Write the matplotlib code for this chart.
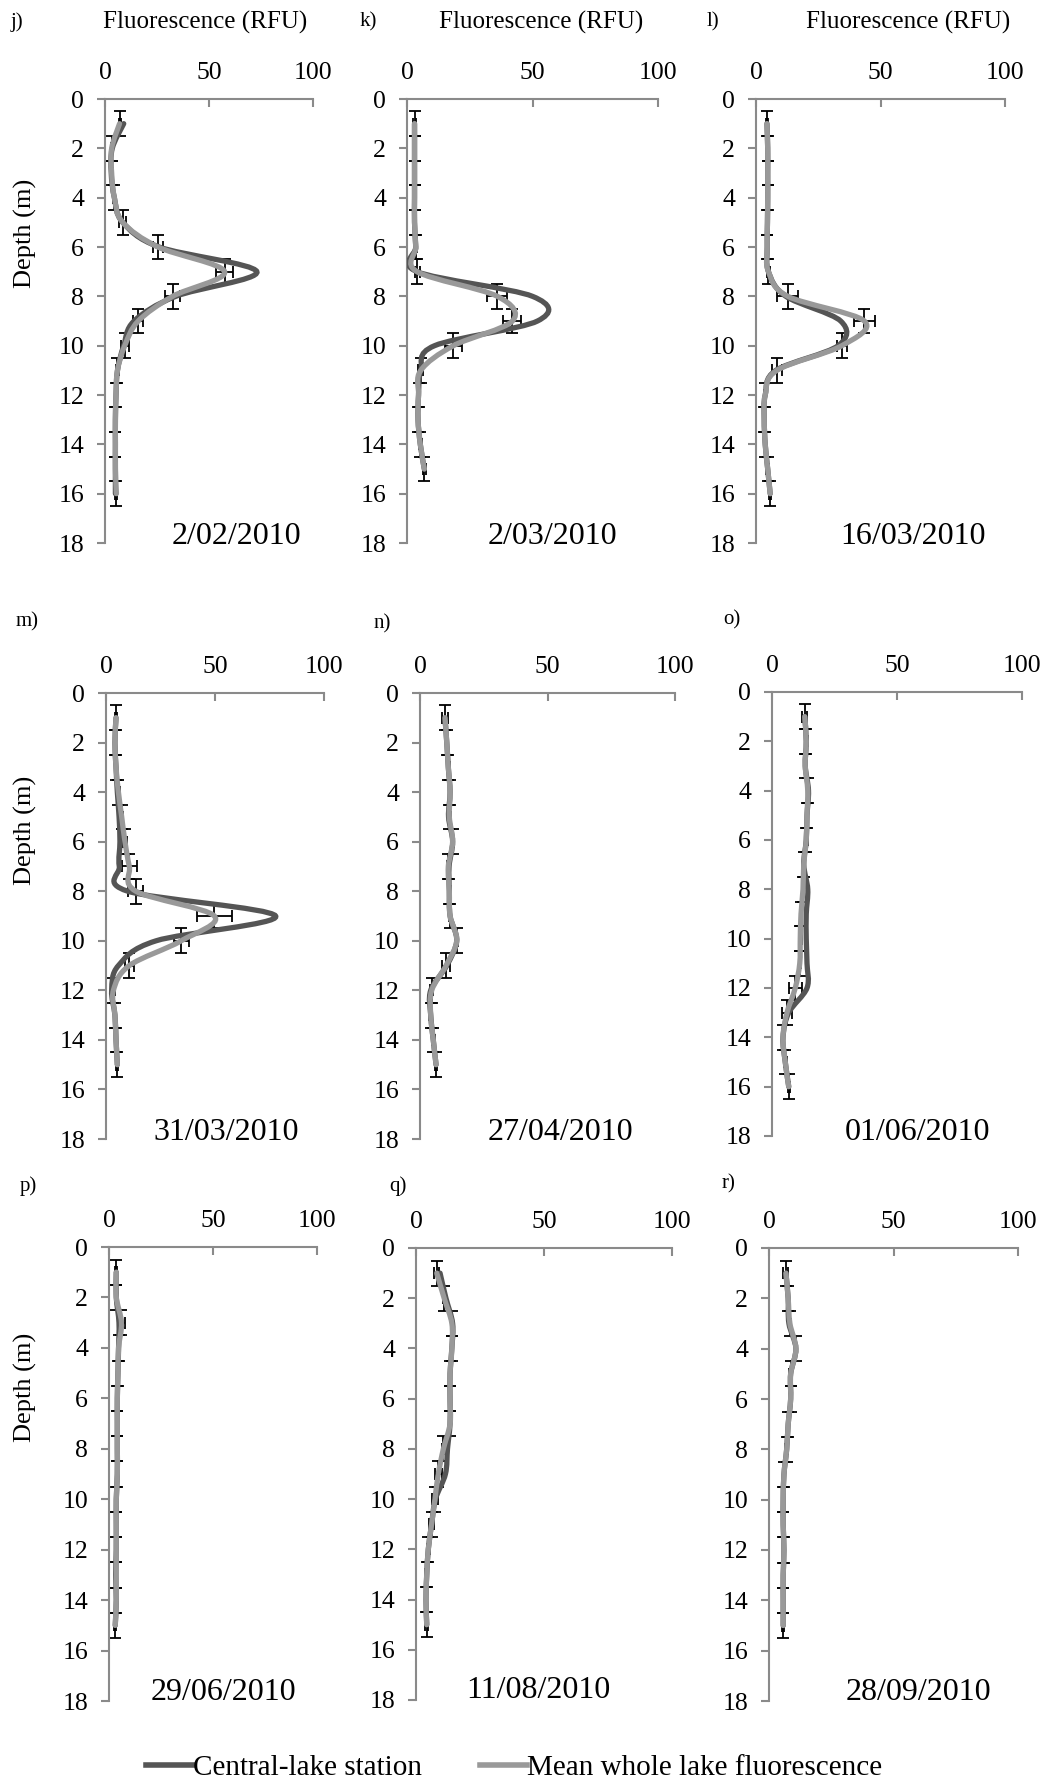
import numpy as np
import matplotlib
matplotlib.use("Agg")
import matplotlib.pyplot as plt
from matplotlib.path import Path
from matplotlib.patches import PathPatch
from matplotlib.lines import Line2D

plt.rcParams['font.family'] = ['Liberation Serif', 'DejaVu Serif']

# ---- data (fluorescence in RFU at 1 m depth steps, starting at 1 m) ----
letters = ['j)', 'k)', 'l)', 'm)', 'n)', 'o)', 'p)', 'q)', 'r)']
dates = ['2/02/2010', '2/03/2010', '16/03/2010', '31/03/2010', '27/04/2010',
         '01/06/2010', '29/06/2010', '11/08/2010', '28/09/2010']

central_j = [9, 3.5, 3, 4.5, 8.5, 26, 73, 34, 14, 9, 6, 5.3, 5, 5, 5, 5]
mean_j = [7, 3.2, 3.2, 4.5, 8.5, 25.5, 57.5, 32.5, 16, 9.5, 6, 5.3, 5, 5, 5, 5.5]
sd_j = [0.5, 0.5, 0.5, 0.5, 1.8, 2.5, 4, 3.5, 2.5, 2, 0.5, 0.5, 0.5, 0.5, 0.5, 0.5]

central_k = [3, 3, 3, 3, 3, 3.5, 4, 50, 52, 11, 5.5, 4.6, 4.4, 5.3, 6.9]
mean_k = [3, 3, 3, 3, 3, 3.5, 4, 36, 42, 18.5, 5.5, 4.6, 4.4, 5.3, 6.9]
sd_k = [0.5, 0.5, 0.5, 0.5, 0.5, 0.5, 1, 4, 3.6, 3.3, 1, 0.5, 0.5, 0.5, 0.5]

central_l = [4.4, 4.7, 4.7, 4.7, 4.6, 4.5, 5, 12, 34, 33, 8, 3.7, 3.3, 3.7, 4.7, 5.7]
mean_l = [4.4, 4.7, 4.7, 4.7, 4.6, 4.5, 5, 12.8, 43.5, 34.5, 8.4, 3.7, 3.3, 3.7, 4.7, 5.7]
sd_l = [0.5, 0.5, 0.5, 0.5, 0.5, 0.5, 0.5, 4.2, 4.3, 2, 2, 0.5, 0.5, 0.5, 0.5, 0.5]

central_m = [4.6, 4.1, 4.6, 5.2, 6, 6.4, 6.1, 10, 77.8, 23, 5.7, 2.6, 4.1, 4.6, 5.2]
mean_m = [4.6, 4.1, 4.6, 5.7, 7.2, 8.7, 10.7, 13.7, 49.7, 34.5, 10.7, 3.4, 4.1, 4.6, 5.2]
sd_m = [0.5, 0.5, 0.5, 0.5, 0.5, 1, 3.4, 3.4, 8, 3.4, 2, 0.5, 0.5, 0.5, 0.5]

central_n = [9.8, 10.5, 11.1, 11.8, 11.2, 12.8, 11.4, 11.5, 11.8, 14.4, 10.5, 4.2, 4.2, 5.2, 6.3]
mean_n = [9.8, 10.5, 11.1, 11.8, 11.5, 12.8, 11.1, 11.5, 11.8, 14.4, 10.2, 4.6, 4.2, 5.2, 6.3]
sd_n = [1, 0.5, 0.5, 0.5, 0.5, 0.5, 0.5, 0.5, 0.5, 0.5, 1.6, 0.5, 0.5, 0.5, 0.5]

central_o = [13.1, 13.7, 13.3, 14.6, 14, 13.7, 12.7, 14.3, 13.7, 13.7, 14, 14, 6.7, 4.4, 5.3, 6.7]
mean_o = [13.1, 13.7, 13.3, 14.3, 14, 13.7, 12.7, 12.4, 11.6, 11.3, 11.1, 9.3, 6, 4.4, 5.3, 6.7]
sd_o = [1, 0.5, 0.5, 0.5, 0.5, 0.5, 0.5, 0.5, 0.5, 0.5, 0.5, 2.5, 2, 0.5, 0.5, 0.5]

central_p = [3.5, 3.5, 4.8, 4.6, 4.3, 4, 4, 4, 4, 3.5, 3.5, 3.5, 3.2, 3.5, 3]
mean_p = [3.5, 3.5, 6, 4.6, 4.3, 4, 4, 4, 4, 3.5, 3.5, 3.5, 3.5, 3.5, 3]
sd_p = [0.5, 0.5, 1.5, 0.5, 0.5, 0.5, 0.5, 0.5, 0.5, 0.5, 0.5, 0.5, 0.5, 0.5, 0.5]

central_q = [9.4, 11.7, 14.3, 14, 13.3, 13.3, 13.3, 12.3, 11.5, 7.6, 6.1, 4.8, 4.2, 3.9, 4.2]
mean_q = [8.1, 11, 14, 14, 13.3, 13.3, 13.3, 10.7, 8.7, 7.4, 6.1, 4.8, 4.2, 3.9, 4.2]
sd_q = [1, 0.5, 0.5, 0.5, 0.5, 0.5, 0.5, 0.5, 1.3, 1.3, 1, 0.5, 0.5, 0.5, 0.5]

central_r = [6.8, 7.7, 8, 10.8, 8.7, 8.7, 7.7, 7.1, 6, 5.7, 5.7, 6, 5.7, 5.7, 5.7]
mean_r = [6.8, 7.7, 8.4, 10.8, 8.7, 8.7, 7.7, 7.1, 6, 5.7, 5.7, 6, 5.7, 5.7, 5.7]
sd_r = [1, 0.5, 0.5, 0.5, 0.5, 0.5, 0.5, 0.5, 0.5, 0.5, 0.5, 0.5, 0.5, 0.5, 0.5]

central = [central_j, central_k, central_l, central_m, central_n, central_o, central_p, central_q, central_r]
means = [mean_j, mean_k, mean_l, mean_m, mean_n, mean_o, mean_p, mean_q, mean_r]
sds = [sd_j, sd_k, sd_l, sd_m, sd_n, sd_o, sd_p, sd_q, sd_r]

# ---- layout (pixels: left, right, top, bottom of each plot area) ----
W, H = 1049, 1782
boxes = [(105, 313, 99, 543), (407, 658, 99, 543), (756, 1005, 99, 543),
         (106, 324, 693, 1139), (420, 675, 693, 1139), (772, 1022, 692, 1136),
         (109, 317, 1247, 1701), (416, 672, 1248, 1700), (769, 1018, 1248, 1701)]
letter_pos = [(17, 22), (368, 22), (713, 22), (27, 622), (382, 624), (732, 620),
              (28, 1186), (398, 1186), (729, 1184)]
date_pos = [(236, 537), (552, 537), (913, 537), (226, 1133), (560, 1133), (917, 1133),
            (223, 1692), (538, 1690), (918, 1692)]
title_pos = [(205, 22), (541, 22), (908, 22)]
ylabel_pos = [(25, 233), (25, 830), (25, 1387)]

DARK = '#555555'
LIGHT = '#999999'
AXIS = '#8a8a8a'


def fx(x):
    return x / W


def fy(y):
    return 1 - y / H


def smooth_path(x, y):
    # Excel-style smoothed line: Bezier segments with Catmull-Rom control points
    pts = np.column_stack([x, y]).astype(float)
    n = len(pts)
    verts = [pts[0]]
    codes = [Path.MOVETO]
    for i in range(n - 1):
        p0 = pts[i - 1] if i > 0 else pts[i]
        p1, p2 = pts[i], pts[i + 1]
        p3 = pts[i + 2] if i + 2 < n else pts[i + 1]
        verts += [p1 + (p2 - p0) / 6, p2 - (p3 - p1) / 6, p2]
        codes += [Path.CURVE4] * 3
    return Path(verts, codes)


fig = plt.figure(figsize=(W / 100, H / 100), dpi=100)

for i in range(9):
    l, r, t, b = boxes[i]
    ax = fig.add_axes([fx(l), fy(b), (r - l) / W, (b - t) / H])
    depth = np.arange(1, len(means[i]) + 1)

    ax.errorbar(means[i], depth, xerr=sds[i], yerr=0.5, fmt='none', ecolor='black',
                elinewidth=1.3, capsize=4, capthick=1.3, zorder=2)
    ax.add_patch(PathPatch(smooth_path(central[i], depth), fill=False, edgecolor=DARK,
                           lw=3.8, capstyle='round', zorder=3))
    ax.add_patch(PathPatch(smooth_path(means[i], depth), fill=False, edgecolor=LIGHT,
                           lw=3.8, capstyle='round', zorder=4))

    ax.set_xlim(0, 100)
    ax.set_ylim(18, 0)
    ax.xaxis.tick_top()
    ax.set_xticks([0, 50, 100])
    ax.set_yticks(range(0, 19, 2))
    ax.spines['right'].set_visible(False)
    ax.spines['bottom'].set_visible(False)
    for s in ['top', 'left']:
        ax.spines[s].set_color(AXIS)
        ax.spines[s].set_linewidth(1.5)
    ax.tick_params(axis='x', direction='in', length=6, width=1.5, color=AXIS,
                   labelsize=18.5, pad=11)
    ax.tick_params(axis='y', direction='out', length=6, width=1.5, color=AXIS,
                   labelsize=18.5, pad=9)
    ax.patch.set_visible(False)

    fig.text(fx(letter_pos[i][0]), fy(letter_pos[i][1]), letters[i], fontsize=15,
             ha='center', va='center')
    fig.text(fx(date_pos[i][0]), fy(date_pos[i][1]), dates[i], fontsize=23,
             ha='center', va='center')

for x, y in title_pos:
    fig.text(fx(x), fy(y), 'Fluorescence (RFU)', fontsize=18, ha='center', va='center')
for x, y in ylabel_pos:
    fig.text(fx(x), fy(y), 'Depth (m)', fontsize=19, ha='center', va='center', rotation=90)

handles = [Line2D([], [], color=DARK, lw=4), Line2D([], [], color=LIGHT, lw=4)]
fig.legend(handles, ['Central-lake station', 'Mean whole lake fluorescence'],
           loc='center', bbox_to_anchor=(0.49, 0.008), ncol=2, frameon=False,
           fontsize=21, handlelength=1.6, handletextpad=0.0, columnspacing=2.0,
           borderpad=0)

fig.savefig('out.png', dpi=100)
